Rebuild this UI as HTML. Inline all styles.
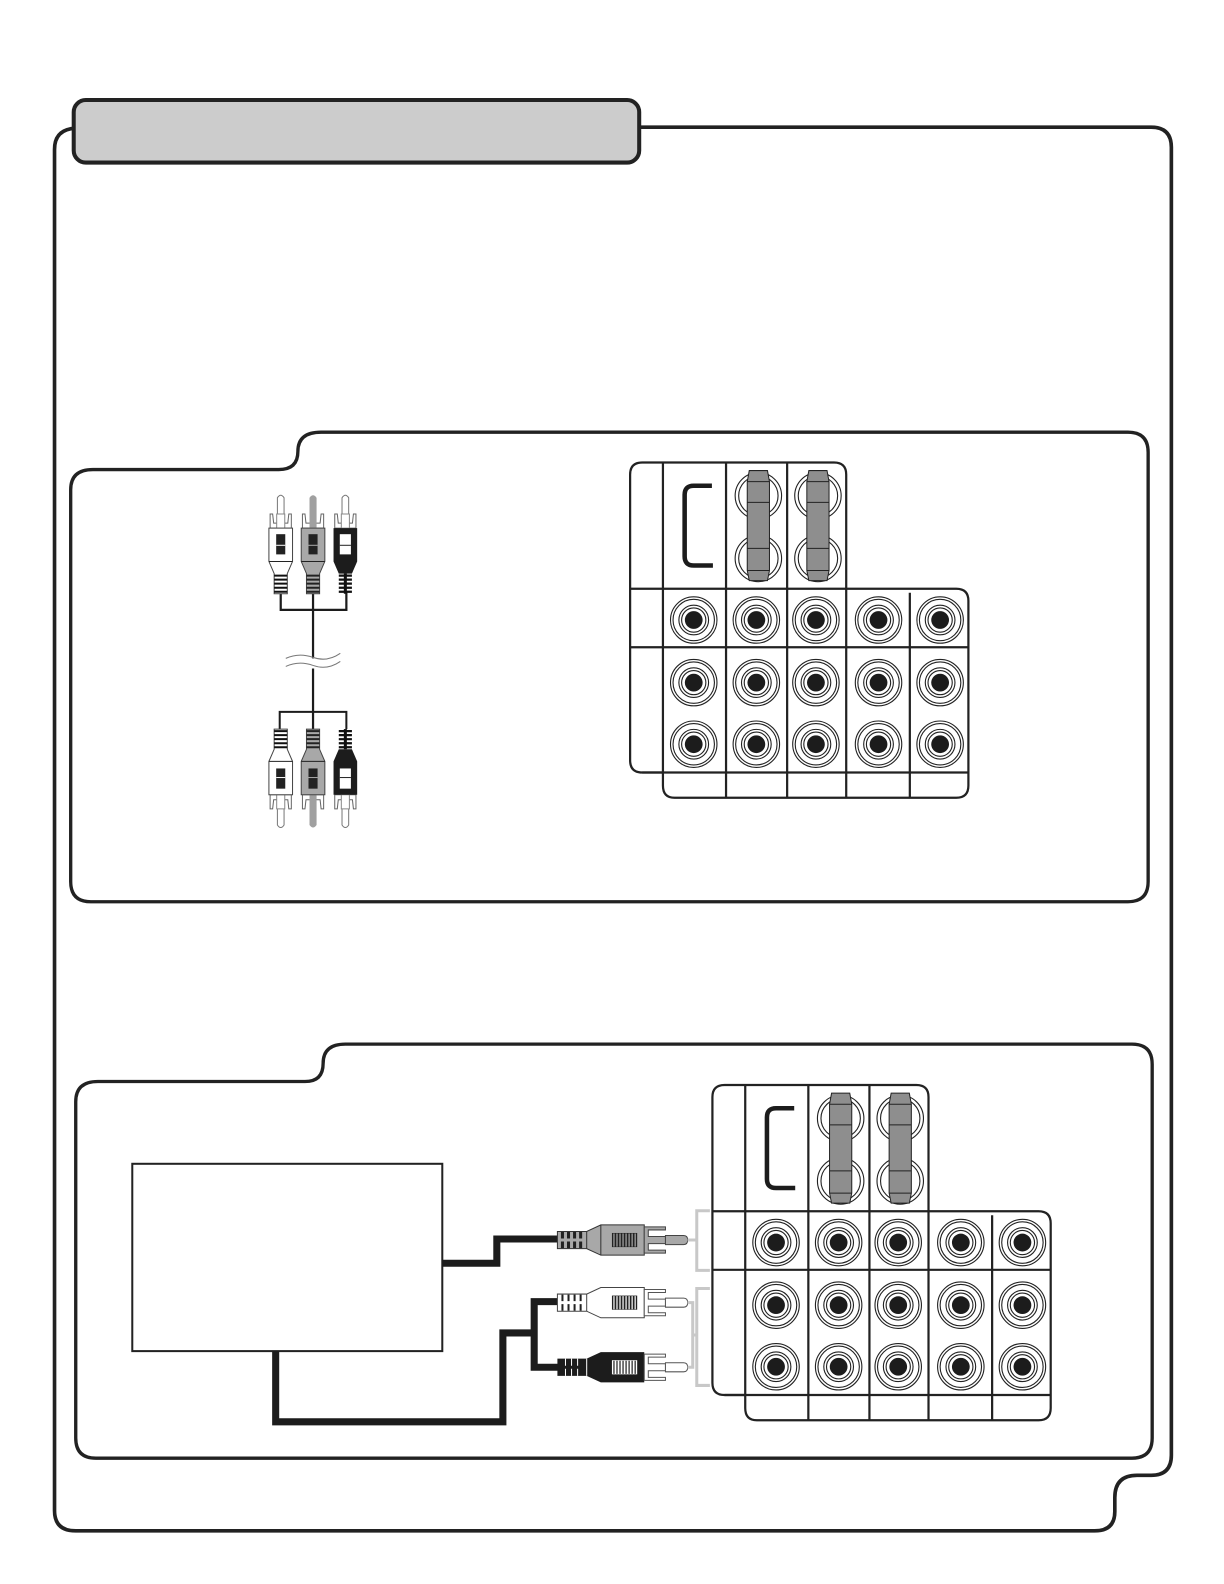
<!DOCTYPE html>
<html><head><meta charset="utf-8"><title>Connection diagram</title>
<style>html,body{margin:0;padding:0;background:#fff}svg{display:block}</style></head>
<body>
<svg xmlns="http://www.w3.org/2000/svg" width="1224" height="1584" viewBox="0 0 1224 1584">
<defs>
<g id="jack" fill="none" stroke="#222" stroke-width="1.1">
<circle r="23"/><circle r="20.500"/><circle r="14.700"/><circle r="12"/><circle r="8.800" fill="#1c1c1c" stroke="none"/>
</g>
<g id="bar">
<path d="M-9,-25 H9 L11,-14 V74 L9,84 H-9 L-11,74 V-14Z" fill="#8e8e8e" stroke="#222" stroke-width="1"/>
<path d="M-11,-14 H11 M-11,6.500 H11 M-11,52 H11 M-11,74 H11" stroke="#222" stroke-width="1"/>
</g>
<g id="panel">
<path d="M636,458 H826 Q838,458 838,470 V583 H947 Q959,583 959,595 V778 Q959,790 947,790 H668 Q656.500,790 656.500,778 V765 H636 Q624,765 624,753 V470 Q624,458 636,458Z" fill="#fff" stroke="#222" stroke-width="2.200"/>
<path d="M656.500,458 V765 M719,458 V790 M779.500,458 V790 M838,583 V790 M901,587 V790 M624,583 H838 M624,641 H959 M636,765 H959" fill="none" stroke="#222" stroke-width="2.200"/>
<path d="M705,481 H687 Q678,481 678,490 V551 Q678,560 687,560 H706" fill="none" stroke="#1c1c1c" stroke-width="4.500"/>
<g fill="none" stroke="#222" stroke-width="1.100">
<circle cx="751" cy="491" r="23"/><circle cx="751" cy="491" r="19.500"/>
<circle cx="751" cy="553" r="23"/><circle cx="751" cy="553" r="19.500"/>
<circle cx="810" cy="491" r="23"/><circle cx="810" cy="491" r="19.500"/>
<circle cx="810" cy="553" r="23"/><circle cx="810" cy="553" r="19.500"/>
</g>
<use href="#bar" x="751" y="491"/><use href="#bar" x="810" y="491"/>
<use href="#jack" x="687" y="614"/><use href="#jack" x="749" y="614"/><use href="#jack" x="808" y="614"/><use href="#jack" x="870" y="614"/><use href="#jack" x="931" y="614"/>
<use href="#jack" x="687" y="676"/><use href="#jack" x="749" y="676"/><use href="#jack" x="808" y="676"/><use href="#jack" x="870" y="676"/><use href="#jack" x="931" y="676"/>
<use href="#jack" x="687" y="737"/><use href="#jack" x="749" y="737"/><use href="#jack" x="808" y="737"/><use href="#jack" x="870" y="737"/><use href="#jack" x="931" y="737"/>
</g>
<g id="head">
<path d="M-10.500,19 H-8 L-7,28 H7 L8,19 H10.500 V33 H-10.500Z" fill="#fff" stroke="#666" stroke-width="1"/>
</g>
<g id="hpin">
<path d="M86,-13 H107 V-10 H90 V-3.500 H107 V3.500 H90 V10 H107 V13 H86Z" stroke-width="1"/>
<path d="M107,-4.500 H125 Q129,-4.500 129,0 Q129,4.500 125,4.500 H107Z" stroke-width="1"/>
</g>
<g id="hstripes" stroke-width="1.200">
<path d="M56,-6.500 V6.500 M59,-6.500 V6.500 M62,-6.500 V6.500 M65,-6.500 V6.500 M68,-6.500 V6.500 M71,-6.500 V6.500 M74,-6.500 V6.500 M77,-6.500 V6.500"/>
</g>
</defs>
<rect width="1224" height="1584" fill="#fff"/>
<g transform="scale(1.0098)">

<!-- outer frame -->
<path d="M75,127 Q54,128 54,148 V1496 Q54,1516 75,1516 H1084 Q1104,1516 1104,1497 V1483 Q1104,1461 1126,1461 H1140 Q1160,1461 1160,1441 V146 Q1160,126 1140,126 H630" fill="none" stroke="#222" stroke-width="3.600"/>
<rect x="73" y="99" width="560" height="62" rx="12" fill="#cccccc" stroke="#222" stroke-width="4"/>

<!-- sub panel 1 -->
<path d="M92,465 H276 Q295,465 295,447 Q295,428 318,428 H1117 Q1137,428 1137,448 V873 Q1137,893 1117,893 H90 Q70,893 70,873 V485 Q70,465 92,465Z" fill="#fff" stroke="#222" stroke-width="3.300"/>
<!-- sub panel 2 -->
<path d="M97,1071 H302 Q320,1071 320,1053 Q320,1034 342,1034 H1121 Q1141,1034 1141,1054 V1424 Q1141,1444 1121,1444 H95 Q75,1444 75,1424 V1091 Q75,1071 97,1071Z" fill="#fff" stroke="#222" stroke-width="3.300"/>

<!-- panels with jacks -->
<use href="#panel"/>
<use href="#panel" x="81.500" y="616.500"/>

<!-- vertical cable -->
<g fill="none" stroke="#1c1c1c">
<path d="M278,586 V604 H343 V586 M310,586 V652 M310,662 V722" stroke-width="2.200"/>
<path d="M277,722 V705 H343 V722 M277,705 H343" stroke-width="2"/>
</g>
<path d="M283,652 Q296,646 310,651 T337,647 M283,660 Q296,654 310,659 T337,655" fill="none" stroke="#777" stroke-width="1"/>
<!-- top plugs -->
<g transform="translate(278,490)">
<path d="M-3.300,33 V3 Q0,-2 3.300,3 V33Z" fill="#fff" stroke="#777"/>
<use href="#head"/>
<path d="M-4,33 V19 H4 V33Z" fill="#fff" stroke="#888"/>
<path d="M-11.700,33 H11.700 V66 L6.500,78 V98 H-6.500 V78 L-11.700,66Z" fill="#fff" stroke="#444"/>
<path d="M-11.700,66 H11.700" stroke="#222"/>
<rect x="-4.500" y="39" width="9" height="20" fill="#222"/><path d="M-4.500,50 H4.500" stroke="#fff"/>
<path d="M-6.500,80 H6.500 M-6.500,84 H6.500 M-6.500,88 H6.500 M-6.500,92 H6.500 M-6.500,96 H6.500" stroke="#111" stroke-width="2"/>
</g>
<g transform="translate(310,490)">
<use href="#head"/>
<path d="M-3.500,33 V3 Q0,-2 3.500,3 V33Z" fill="#a0a0a0"/>
<path d="M-11.700,33 H11.700 V66 L6.500,78 V98 H-6.500 V78 L-11.700,66Z" fill="#a8a8a8" stroke="#444"/>
<path d="M-11.700,66 H11.700" stroke="#222"/>
<rect x="-4.500" y="39" width="9" height="20" fill="#222"/><path d="M-4.500,50 H4.500" stroke="#aaa"/>
<path d="M-6.500,80 H6.500 M-6.500,84 H6.500 M-6.500,88 H6.500 M-6.500,92 H6.500 M-6.500,96 H6.500" stroke="#222" stroke-width="2"/>
</g>
<g transform="translate(342,490)">
<path d="M-3.300,33 V3 Q0,-2 3.300,3 V33Z" fill="#fff" stroke="#777"/>
<use href="#head"/>
<path d="M-4,33 V19 H4 V33Z" fill="#fff" stroke="#888"/>
<path d="M-11.700,33 H11.700 V66 L6.500,78 H-6.500 L-11.700,66Z" fill="#1c1c1c"/>
<rect x="-5.500" y="39" width="11" height="20" fill="#fff"/><path d="M-5.500,50 H5.500" stroke="#222"/>
<path d="M-1.500,78 V98 H1.500 V78Z" fill="#111"/>
<path d="M-6.500,80 H6.500 M-6.500,84 H6.500 M-6.500,88 H6.500 M-6.500,92 H6.500 M-6.500,96 H6.500" stroke="#111" stroke-width="2.200"/>
</g>
<!-- bottom plugs -->
<g transform="translate(278,820) scale(1,-1)">
<path d="M-3.300,33 V3 Q0,-2 3.300,3 V33Z" fill="#fff" stroke="#777"/>
<use href="#head"/>
<path d="M-4,33 V19 H4 V33Z" fill="#fff" stroke="#888"/>
<path d="M-11.700,33 H11.700 V66 L6.500,78 V98 H-6.500 V78 L-11.700,66Z" fill="#fff" stroke="#444"/>
<path d="M-11.700,66 H11.700" stroke="#222"/>
<rect x="-4.500" y="39" width="9" height="20" fill="#222"/><path d="M-4.500,50 H4.500" stroke="#fff"/>
<path d="M-6.500,80 H6.500 M-6.500,84 H6.500 M-6.500,88 H6.500 M-6.500,92 H6.500 M-6.500,96 H6.500" stroke="#111" stroke-width="2"/>
</g>
<g transform="translate(310,820) scale(1,-1)">
<use href="#head"/>
<path d="M-3.500,33 V3 Q0,-2 3.500,3 V33Z" fill="#a0a0a0"/>
<path d="M-11.700,33 H11.700 V66 L6.500,78 V98 H-6.500 V78 L-11.700,66Z" fill="#a8a8a8" stroke="#444"/>
<path d="M-11.700,66 H11.700" stroke="#222"/>
<rect x="-4.500" y="39" width="9" height="20" fill="#222"/><path d="M-4.500,50 H4.500" stroke="#aaa"/>
<path d="M-6.500,80 H6.500 M-6.500,84 H6.500 M-6.500,88 H6.500 M-6.500,92 H6.500 M-6.500,96 H6.500" stroke="#222" stroke-width="2"/>
</g>
<g transform="translate(342,820) scale(1,-1)">
<path d="M-3.300,33 V3 Q0,-2 3.300,3 V33Z" fill="#fff" stroke="#777"/>
<use href="#head"/>
<path d="M-4,33 V19 H4 V33Z" fill="#fff" stroke="#888"/>
<path d="M-11.700,33 H11.700 V66 L6.500,78 H-6.500 L-11.700,66Z" fill="#1c1c1c"/>
<rect x="-5.500" y="39" width="11" height="20" fill="#fff"/><path d="M-5.500,50 H5.500" stroke="#222"/>
<path d="M-1.500,78 V98 H1.500 V78Z" fill="#111"/>
<path d="M-6.500,80 H6.500 M-6.500,84 H6.500 M-6.500,88 H6.500 M-6.500,92 H6.500 M-6.500,96 H6.500" stroke="#111" stroke-width="2.200"/>
</g>

<!-- device box and thick wires -->
<rect x="131" y="1152.500" width="307" height="185.500" fill="#fff" stroke="#222" stroke-width="2"/>
<g fill="none" stroke="#1c1c1c" stroke-width="7">
<path d="M438,1251 H492 V1227 H556"/>
<path d="M273,1338 V1408 H498 V1320 H529"/>
<path d="M556,1289 H529 V1354 H556"/>
</g>

<!-- horizontal plugs -->
<g transform="translate(552,1228)">
<path d="M0,-8.500 H29 L43,-15 H86 V15 H43 L29,8.500 H0Z" fill="#a8a8a8" stroke="#333"/>
<path d="M43,-15 V15 M29,-8.500 V8.500" stroke="#333"/>
<path d="M5,-8 V-1.500 M11,-8 V-1.500 M17,-8 V-1.500 M23,-8 V-1.500 M5,1.500 V8 M11,1.500 V8 M17,1.500 V8 M23,1.500 V8" stroke="#222" stroke-width="3"/>
<rect x="54" y="-7" width="25" height="14" fill="#222"/>
<g stroke="#a8a8a8"><use href="#hstripes"/></g>
<g fill="#a8a8a8" stroke="#444"><use href="#hpin"/></g>
</g>
<g transform="translate(552,1290)">
<path d="M0,-8.500 H29 L43,-15 H86 V15 H43 L29,8.500 H0Z" fill="#fff" stroke="#444"/>
<path d="M29,-8.500 V8.500" stroke="#444"/>
<path d="M5,-8 V-1.500 M11,-8 V-1.500 M17,-8 V-1.500 M23,-8 V-1.500 M5,1.500 V8 M11,1.500 V8 M17,1.500 V8 M23,1.500 V8" stroke="#222" stroke-width="2"/>
<rect x="54" y="-7" width="25" height="14" fill="#222"/>
<g stroke="#fff"><use href="#hstripes"/></g>
<g fill="#fff" stroke="#555"><use href="#hpin"/></g>
</g>
<g transform="translate(552,1354)">
<path d="M0,-8.500 H29 L43,-15 H86 V15 H43 L29,8.500 H0Z" fill="#1c1c1c"/>
<path d="M29,-8.500 V8.500" stroke="#fff"/>
<path d="M8,-8.500 V-1.500 M14,-8.500 V-1.500 M20,-8.500 V-1.500 M8,1.500 V8.500 M14,1.500 V8.500 M20,1.500 V8.500" stroke="#fff" stroke-width="1"/>
<rect x="54" y="-7" width="25" height="14" fill="#fff"/>
<g stroke="#222"><use href="#hstripes"/></g>
<g fill="#fff" stroke="#555"><use href="#hpin"/></g>
</g>

<!-- grey brackets -->
<g fill="none" stroke="#c8c8c8" stroke-width="3">
<path d="M703,1199 H690 V1258 H703 M681,1228 H690"/>
<path d="M703,1276 H690 V1372 H703 M681,1290 H686 V1354 H681 M686,1322 H690"/>
</g>
</g>
</svg>
</body></html>
